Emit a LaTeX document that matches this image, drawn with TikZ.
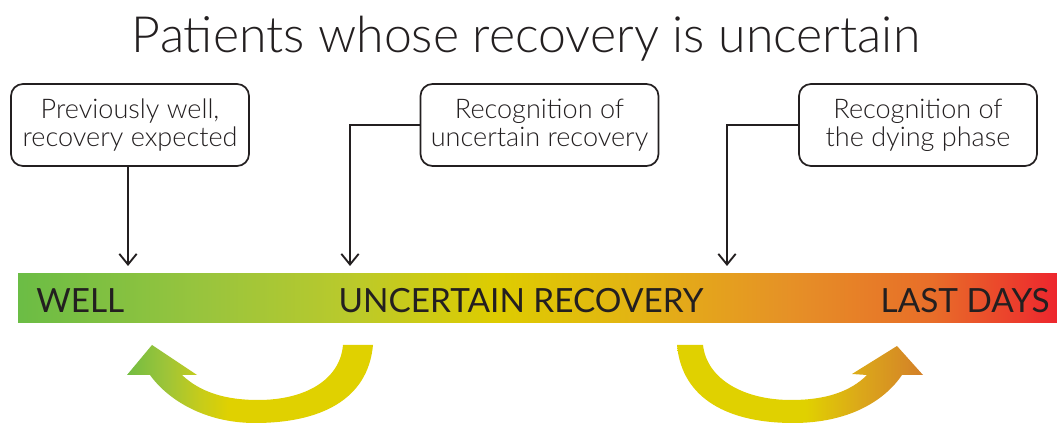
\documentclass[tikz,border=0pt]{standalone}
\usepackage{fontspec}
\setmainfont{Lato}[UprightFont=* Light]
\usetikzlibrary{arrows.meta}
\definecolor{txt}{RGB}{35,31,32}
\pgfdeclarehorizontalshading{barshade}{100bp}{%
  rgb(0bp)=(0.42,0.74,0.27);
  rgb(25bp)=(0.42,0.74,0.27);
  rgb(34bp)=(0.60,0.77,0.24);
  rgb(41bp)=(0.73,0.79,0.17);
  rgb(48bp)=(0.87,0.80,0.00);
  rgb(55bp)=(0.89,0.70,0.08);
  rgb(62bp)=(0.90,0.57,0.15);
  rgb(69bp)=(0.91,0.43,0.16);
  rgb(75bp)=(0.93,0.15,0.18);
  rgb(100bp)=(0.93,0.15,0.18)}
\pgfdeclarehorizontalshading{leftarrowshade}{100bp}{%
  rgb(0bp)=(0.45,0.74,0.26);
  rgb(25bp)=(0.45,0.74,0.26);
  rgb(33bp)=(0.62,0.77,0.22);
  rgb(40bp)=(0.78,0.80,0.10);
  rgb(46bp)=(0.88,0.82,0.00);
  rgb(75bp)=(0.88,0.82,0.00);
  rgb(100bp)=(0.88,0.82,0.00)}
\pgfdeclarehorizontalshading{rightarrowshade}{100bp}{%
  rgb(0bp)=(0.88,0.82,0.00);
  rgb(25bp)=(0.88,0.82,0.00);
  rgb(51bp)=(0.88,0.82,0.00);
  rgb(62bp)=(0.86,0.66,0.10);
  rgb(75bp)=(0.83,0.50,0.16);
  rgb(100bp)=(0.83,0.50,0.16)}
\tikzset{
  box/.style={draw=txt, line width=1.3pt, rounded corners=9pt, fill=white,
    minimum width=178.5pt, minimum height=61.5pt, align=center, text=txt,
    font=\fontsize{20.3}{21}\selectfont, inner sep=2pt},
  conn/.style={draw=txt, line width=1.4pt, -{Straight Barb[length=8pt,width=13pt,line width=1.4pt]}},
  bartext/.style={text=txt, font=\fontsize{25}{25}\selectfont\addfontfeatures{UprightFont=Lato}, inner sep=0pt},
}
\begin{document}
\begin{tikzpicture}[x=0.75pt,y=-0.75pt]
\useasboundingbox (0,0) rectangle (1057,423);
% title
\node[text=txt, font=\fontsize{37.5}{37.5}\selectfont, anchor=base, inner sep=0pt] (title) at (526,53) {Patients whose recovery is uncertain};
% bar
\shade[shading=barshade] (18,274) rectangle (1057,323);
\node[bartext, anchor=base west] (well) at (36,313) {WELL};
\node[bartext, anchor=base] (unc) at (521,313) {UNCERTAIN RECOVERY};
\node[bartext, anchor=base east] (last) at (1050,313) {LAST DAYS};
% boxes
\node[box] (b1) at (130,125) {Previously well,\\recovery expected};
\node[box] (b2) at (539.5,125) {Recognition of\\uncertain recovery};
\node[box] (b3) at (918,125) {Recognition of\\the dying phase};
\coordinate (e1) at (128,266);
\coordinate (e2) at (350,266);
\coordinate (e3) at (727,266);
\draw[conn] (b1.south -| e1) -- (e1);
\draw[conn] (b2.west) -| (e2);
\draw[conn] (b3.west) -| (e3);
% curved arrows
\shade[shading=leftarrowshade]
  (373,345) .. controls (368,400) and (320,423) .. (255,423)
  .. controls (205,423) and (168,400) .. (150,375)
  -- (127,375) -- (152,345) -- (197,375) -- (182,375)
  .. controls (200,392) and (225,400) .. (258,400)
  .. controls (305,400) and (340,380) .. (343,345) -- cycle;
\shade[shading=rightarrowshade]
  (677,345) .. controls (682,400) and (730,423) .. (793,423)
  .. controls (850,423) and (885,400) .. (902,375)
  -- (923,375) -- (897,346) -- (852,374) -- (867,375)
  .. controls (850,392) and (825,400) .. (791,400)
  .. controls (745,400) and (707,380) .. (703,345) -- cycle;
\end{tikzpicture}
\end{document}
